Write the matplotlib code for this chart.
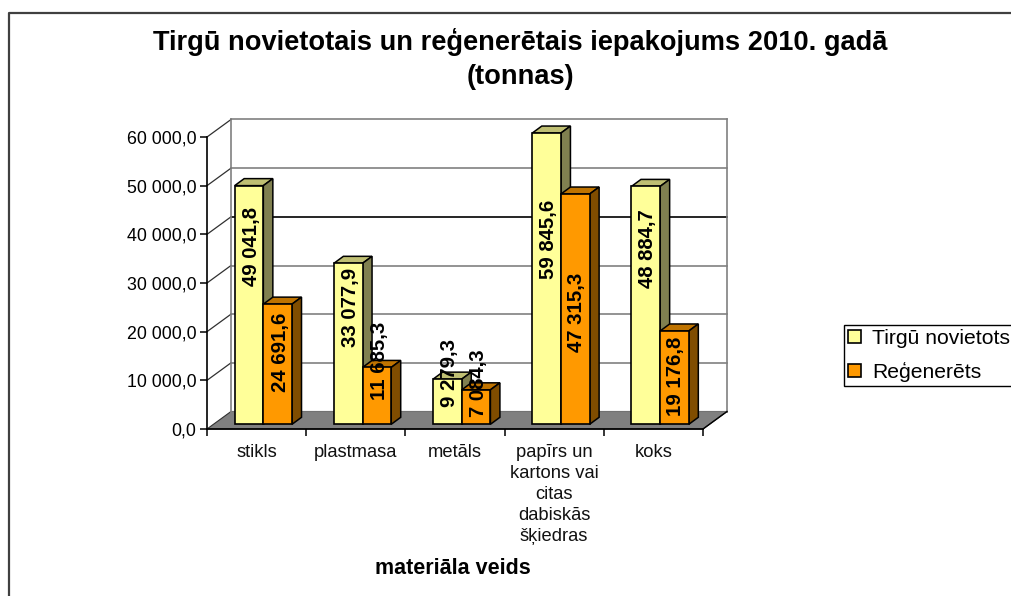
import matplotlib
matplotlib.use('Agg')
import matplotlib.pyplot as plt
from matplotlib.lines import Line2D
from matplotlib.patches import Polygon

plt.rcParams['font.family'] = ['Liberation Sans', 'DejaVu Sans']

categories = ['stikls', 'plastmasa', 'metāls', 'papīrs un\nkartons vai\ncitas\ndabiskās\nšķiedras', 'koks']
placed = [49041.8, 33077.9, 9279.3, 59845.6, 48884.7]
recovered = [24691.6, 11685.3, 7084.3, 47315.3, 19176.8]
placed_labels = ['49 041,8', '33 077,9', '9 279,3', '59 845,6', '48 884,7']
recovered_labels = ['24 691,6', '11 685,3', '7 084,3', '47 315,3', '19 176,8']
yticks = [0, 10000, 20000, 30000, 40000, 50000, 60000]
ytick_labels = ['0,0', '10 000,0', '20 000,0', '30 000,0', '40 000,0', '50 000,0', '60 000,0']

W, H = 1011, 596
fig = plt.figure(figsize=(W / 100, H / 100), dpi=100)
ax = fig.add_axes([207 / W, 1 - 429 / H, 496 / W, 292 / H])
ax.set_xlim(0, 5)
ax.set_ylim(0, 60000)
ax.patch.set_visible(False)

# depth of the fake 3d box and of the bars, in data units
wall_dx = 24 / 99.2
wall_dy = 17.5 / 292 * 60000
bar_dx = 9.5 / 99.2
bar_dy = 7 / 292 * 60000
base = 4.7 / 292 * 60000
width = 0.289
start = 0.279


def poly(pts, fc, ec='black', lw=1.0, z=3):
    ax.add_patch(Polygon(pts, closed=True, facecolor=fc, edgecolor=ec, linewidth=lw, zorder=z, clip_on=False))


def wall_line(xs, ys, color, lw=1.0):
    ax.add_line(Line2D(xs, ys, color=color, linewidth=lw, zorder=1, clip_on=False))


# floor
poly([(0, 0), (wall_dx, wall_dy), (5 + wall_dx, wall_dy), (5, 0)], '#808080', ec='#303030', lw=0.8, z=1)

# back wall and grid
for v in yticks:
    col = 'black' if v == 40000 else '#808080'
    wall_line([wall_dx, 5 + wall_dx], [v + wall_dy, v + wall_dy], col, 1.2)
    if v > 0:
        wall_line([0, wall_dx], [v, v + wall_dy], '#303030', 0.9)
wall_line([wall_dx, wall_dx], [wall_dy, 60000 + wall_dy], '#808080', 1.2)
wall_line([5 + wall_dx, 5 + wall_dx], [wall_dy, 60000 + wall_dy], '#808080', 1.2)

x1 = [i + start for i in range(5)]
x2 = [i + start + width for i in range(5)]
b1 = ax.bar(x1, placed, width, bottom=base, align='edge', color='#FFFF99', edgecolor='black', linewidth=1.2,
            label='Tirgū novietots', zorder=4, clip_on=False)
b2 = ax.bar(x2, recovered, width, bottom=base, align='edge', color='#FF9900', edgecolor='black', linewidth=1.2,
            label='Reģenerēts', zorder=6, clip_on=False)


def box(x, v, fc_top, fc_side, z):
    t = v + base
    r = x + width
    poly([(x, t), (x + bar_dx, t + bar_dy), (r + bar_dx, t + bar_dy), (r, t)], fc_top, lw=1.1, z=z)
    poly([(r, t), (r + bar_dx, t + bar_dy), (r + bar_dx, base + bar_dy), (r, base)], fc_side, lw=1.1, z=z)


for i in range(5):
    box(x1[i], placed[i], '#BFBF73', '#808050', 3)
    box(x2[i], recovered[i], '#BF7300', '#804D00', 5)

# hand placed labels, shift from the bar middle in pixels (x right, y up)
placed_shift = [(2, 58), (2, 36), (2, 29), (2, 39), (2, 57)]
recovered_shift = [(3, 12), (3, 35), (2, 24), (1, -3), (1, 1)]
for i in range(5):
    ax.annotate(placed_labels[i], (x1[i] + width / 2, base + placed[i] / 2),
                xytext=(placed_shift[i][0] * 0.72, placed_shift[i][1] * 0.72), textcoords='offset points',
                rotation=90, ha='center', va='center', fontsize=14.7, fontweight='bold', color='black', zorder=8)
    ax.annotate(recovered_labels[i], (x2[i] + width / 2, base + recovered[i] / 2),
                xytext=(recovered_shift[i][0] * 0.72, recovered_shift[i][1] * 0.72), textcoords='offset points',
                rotation=90, ha='center', va='center', fontsize=14.7, fontweight='bold', color='black', zorder=8)

for s in ['top', 'right']:
    ax.spines[s].set_visible(False)
ax.spines['left'].set_linewidth(1.2)
ax.spines['bottom'].set_linewidth(1.2)
ax.spines['left'].set_zorder(2)
ax.spines['bottom'].set_zorder(2)
wall_line([5, 5 + wall_dx], [0, wall_dy], 'black', 1.0)

ax.set_yticks(yticks)
ax.set_yticklabels(ytick_labels, fontsize=12.8)
ax.set_xticks(range(6))
ax.set_xticklabels([])
ax.set_xticks([i + 0.5 for i in range(5)], minor=True)
ax.set_xticklabels(categories, minor=True, fontsize=13.2, linespacing=1.32, color='#111111')
ax.tick_params(axis='both', which='major', length=5, width=1.1, color='black', pad=2.5)
ax.tick_params(axis='x', which='minor', length=0, pad=10.5)
ax.set_xlabel('materiāla veids', fontsize=15.5, fontweight='bold')
ax.xaxis.set_label_coords(0.496, -0.443)

fig.text(520 / W, 1 - 59 / H, 'Tirgū novietotais un reģenerētais iepakojums 2010. gadā\n(tonnas)',
         ha='center', va='center', fontsize=19.6, fontweight='bold', linespacing=1.36)

leg = ax.legend(handles=[b1, b2], loc='upper left', bbox_to_anchor=(844 / W, 1 - 325 / H),
                bbox_transform=fig.transFigure, fontsize=15.2, frameon=True, fancybox=False, framealpha=1,
                edgecolor='black', handlelength=0.62, handleheight=0.55, handletextpad=0.55,
                borderpad=0.18, labelspacing=0.66, borderaxespad=0)
leg.get_frame().set_linewidth(1.0)

# chart border, only left and top are in the picture
fig.add_artist(Line2D([8.5 / W, 8.5 / W, 1], [0, 1 - 12.5 / H, 1 - 12.5 / H], color='#404040', linewidth=1.6))

fig.savefig('out.png', dpi=100)
